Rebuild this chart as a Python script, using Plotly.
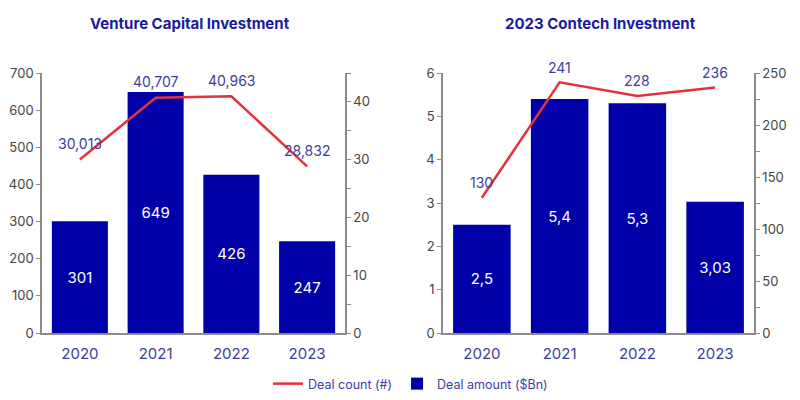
import plotly.graph_objects as go

years = ["2020", "2021", "2022", "2023"]
vc_amount = [301, 649, 426, 247]
vc_amount_labels = ["301", "649", "426", "247"]
vc_count = [30.013, 40.707, 40.963, 28.832]
vc_count_labels = ["30,013", "40,707", "40,963", "28,832"]
ct_amount = [2.5, 5.4, 5.3, 3.03]
ct_amount_labels = ["2,5", "5,4", "5,3", "3,03"]
ct_count = [130, 241, 228, 236]
ct_count_labels = ["130", "241", "228", "236"]

BAR = "#0000a8"
RED = "#e3323c"
LBL = "#3c3ca8"
AX = "#8c8c8c"
TXT = "#444444"
FONT = "Inter"

fig = go.Figure()

fig.add_trace(go.Bar(x=years, y=vc_amount, text=vc_amount_labels, textposition="inside",
                     insidetextanchor="middle", textfont=dict(color="white", size=15, family=FONT),
                     marker=dict(color=BAR, line=dict(width=0)), width=0.74,
                     xaxis="x", yaxis="y", name="Deal amount ($Bn)", showlegend=False))
fig.add_trace(go.Scatter(x=years, y=vc_count, mode="lines",
                         line=dict(color=RED, width=2.5), xaxis="x", yaxis="y2",
                         name="Deal count (#)", showlegend=True, cliponaxis=False))
fig.add_trace(go.Bar(x=years, y=ct_amount, text=ct_amount_labels, textposition="inside",
                     insidetextanchor="middle", textfont=dict(color="white", size=15, family=FONT),
                     marker=dict(color=BAR, line=dict(width=0)), width=0.74,
                     xaxis="x2", yaxis="y3", name="Deal amount ($Bn)", showlegend=True))
fig.add_trace(go.Scatter(x=years, y=ct_count, mode="lines",
                         line=dict(color=RED, width=2.5), xaxis="x2", yaxis="y4",
                         name="Deal count (#)", showlegend=False, cliponaxis=False))

yb = [1 - 333 / 400, 1 - 73 / 400]
d1 = [42 / 800, 345 / 800]
d2 = [443 / 800, 754 / 800]

xcommon = dict(type="category", showline=True, linecolor=AX, linewidth=1.5, ticks="",
               showgrid=False, tickfont=dict(size=15, color=LBL, family=FONT),
               ticklabelstandoff=6, zeroline=False, automargin=False,
               range=[-0.5, len(years) - 0.5])
ycommon = dict(showline=True, linecolor=AX, linewidth=1.5, showgrid=False, zeroline=False,
               ticks="outside", ticklen=4, tickcolor=AX, automargin=False,
               tickfont=dict(size=13, color=TXT, family=FONT))

annotations = [
    dict(text="<b>Venture Capital Investment</b>", x=190 / 800, y=1 - 23 / 400,
         xref="paper", yref="paper", showarrow=False, xanchor="center", yanchor="middle",
         font=dict(size=15, color="#1a1aa0", family=FONT)),
    dict(text="<b>2023 Contech Investment</b>", x=600 / 800, y=1 - 23 / 400,
         xref="paper", yref="paper", showarrow=False, xanchor="center", yanchor="middle",
         font=dict(size=15, color="#1a1aa0", family=FONT)),
]
# category axes take the category index for annotation positions
for i, (yv, t) in enumerate(zip(vc_count, vc_count_labels)):
    annotations.append(dict(text=t, x=i, y=yv, xref="x", yref="y2", showarrow=False,
                            yanchor="middle", yshift=16,
                            font=dict(size=14, color=LBL, family=FONT)))
for i, (yv, t) in enumerate(zip(ct_count, ct_count_labels)):
    annotations.append(dict(text=t, x=i, y=yv, xref="x2", yref="y4", showarrow=False,
                            yanchor="middle", yshift=15,
                            font=dict(size=14, color=LBL, family=FONT)))

fig.update_layout(
    width=800, height=400, margin=dict(l=0, r=0, t=0, b=0),
    paper_bgcolor="white", plot_bgcolor="white",
    font=dict(family=FONT),
    barmode="overlay",
    xaxis=dict(domain=d1, anchor="y", **xcommon),
    yaxis=dict(domain=yb, anchor="x", range=[0, 700], dtick=100, **ycommon),
    yaxis2=dict(overlaying="y", side="right", anchor="x", range=[0, 45], dtick=10,
                minor=dict(dtick=5, ticks="outside", ticklen=4, tickcolor=AX), **ycommon),
    xaxis2=dict(domain=d2, anchor="y3", **xcommon),
    yaxis3=dict(domain=yb, anchor="x2", range=[0, 6], dtick=1, **ycommon),
    yaxis4=dict(overlaying="y3", side="right", anchor="x2", range=[0, 250], dtick=50,
                minor=dict(dtick=25, ticks="outside", ticklen=4, tickcolor=AX), **ycommon),
    legend=dict(orientation="h", x=0.335, y=0.04, xanchor="left", yanchor="middle",
                font=dict(size=12.5, color=LBL, family=FONT), bgcolor="rgba(0,0,0,0)",
                traceorder="normal"),
    annotations=annotations,
)

fig.write_html("out.html", config={"displayModeBar": False},
               post_script="document.body.style.margin='0';")
